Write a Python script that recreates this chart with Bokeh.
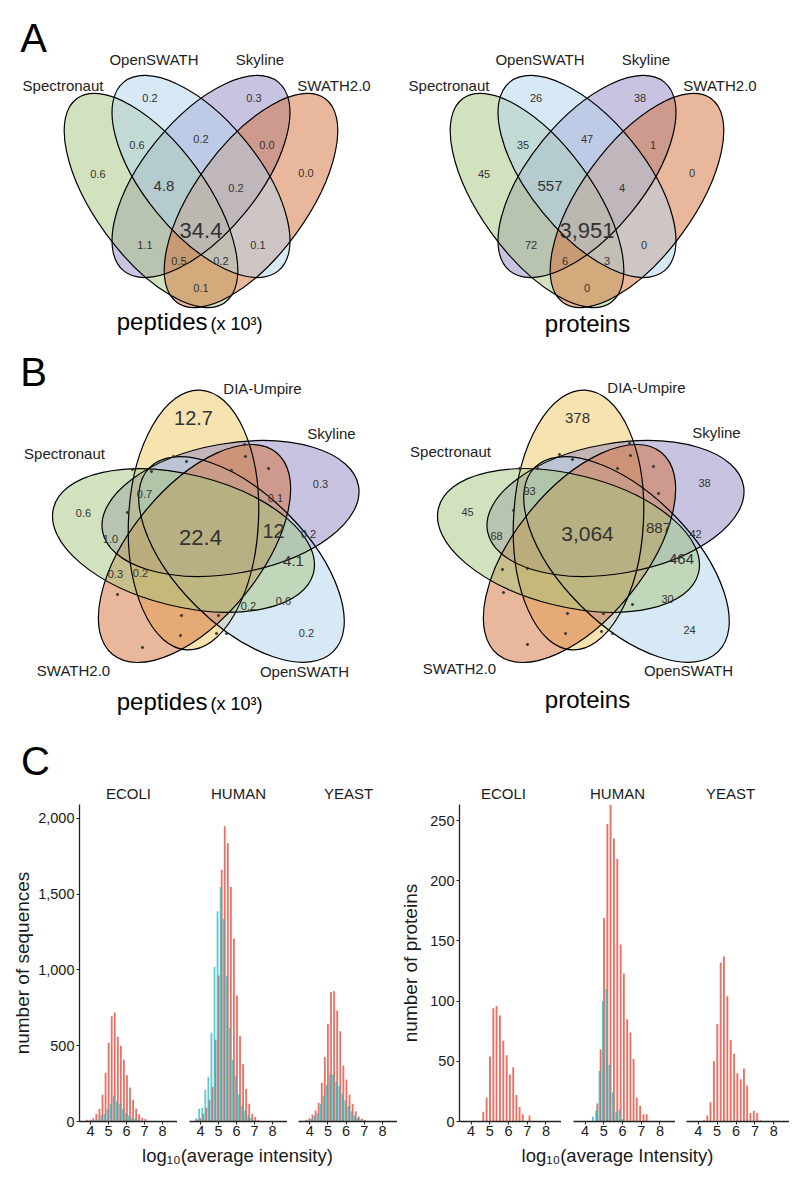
import math
from bokeh.plotting import figure
from bokeh.models import Range1d, FixedTicker, NumeralTickFormatter, ColumnDataSource
from bokeh.transform import dodge
from bokeh.layouts import column, row
from bokeh.embed import file_html
from bokeh.resources import INLINE
from bokeh.core.properties import value

FONT = "Liberation Sans"

# ---------------- data ----------------
QUAD_SETS = ["Spectronaut", "OpenSWATH", "Skyline", "SWATH2.0"]
QUAD_REGIONS = ["A", "B", "C", "D", "AB", "BC", "CD", "ABC", "BCD", "ABCD", "AC", "BD", "ACD", "ABD", "AD"]
QUAD_PEPTIDES = ["0.6", "0.2", "0.3", "0.0", "0.6", "0.2", "0.0", "4.8", "0.2", "34.4", "1.1", "0.1", "0.5", "0.2", "0.1"]
QUAD_PROTEINS = ["45", "26", "38", "0", "35", "47", "1", "557", "4", "3,951", "72", "0", "6", "3", "0"]

PENTA_SETS = ["DIA-Umpire", "Skyline", "OpenSWATH", "SWATH2.0", "Spectronaut"]
PENTA_PEPTIDES = ["12.7", "0.3", "0.6", "0.7", "0.1", "22.4", "12", "1.0", "0.2", "4.1", "0.3", "0.2", "0.2", "0.6", "0.2"]
PENTA_PROTEINS = ["378", "38", "45", "93", "3,064", "887", "68", "42", "464", "30", "24"]

SPECIES = ["ECOLI", "HUMAN", "YEAST"]

PEP_BINS = [3.78, 3.95, 4.12, 4.29, 4.46, 4.63, 4.80, 4.97, 5.14, 5.31, 5.48,
            5.65, 5.82, 5.99, 6.16, 6.33, 6.50, 6.67, 6.84, 7.01, 7.18]
ECOLI_PEP_RED = [12, 11, 22, 50, 84, 176, 321, 520, 695, 720, 560, 500, 407, 305, 225, 143, 84, 48, 24, 16, 5]
ECOLI_PEP_CYAN = [2, 4, 6, 9, 13, 40, 50, 84, 117, 170, 134, 117, 84, 55, 40, 24, 18, 10, 5, 3, 0]
HUMAN_PEP_RED = [13, 22, 50, 90, 143, 227, 539, 964, 1661, 1949, 1837, 1548, 1207, 832, 564, 377, 216, 117, 51, 29, 10]
HUMAN_PEP_CYAN = [20, 84, 90, 209, 293, 585, 1019, 1388, 1547, 1338, 959, 618, 407, 300, 178, 101, 73, 40, 22, 10, 3]
YEAST_PEP_RED = [11, 22, 46, 73, 123, 255, 425, 645, 854, 860, 733, 596, 370, 277, 176, 117, 68, 33, 18, 11, 0]
YEAST_PEP_CYAN = [3, 7, 18, 40, 55, 117, 170, 242, 308, 310, 260, 233, 183, 139, 101, 68, 40, 24, 13, 5, 0]

PROT_BINS = [4.28, 4.45, 4.62, 4.80, 4.98, 5.16, 5.33, 5.51, 5.69, 5.87, 6.04, 6.22, 6.39, 6.56, 6.73, 6.91, 7.09, 7.26]
ECOLI_PROT_RED = [0, 0, 8, 20, 54, 94, 96, 88, 67, 55, 39, 45, 22, 12, 6, 0, 5, 0]
ECOLI_PROT_CYAN = [0, 0, 0, 0, 0, 0, 0, 0, 0, 0, 0, 0, 0, 0, 0, 0, 0, 0]
HUMAN_PROT_RED = [0, 0, 15, 60, 169, 247, 263, 235, 218, 147, 123, 85, 74, 52, 20, 13, 6, 6]
HUMAN_PROT_CYAN = [0, 4, 9, 42, 100, 110, 47, 24, 8, 10, 2, 0, 0, 0, 0, 0, 0, 0]
YEAST_PROT_RED = [1, 5, 16, 50, 81, 132, 137, 104, 68, 56, 40, 35, 44, 30, 7, 9, 7, 1]
YEAST_PROT_CYAN = [0, 0, 0, 0, 0, 0, 0, 0, 0, 0, 0, 0, 0, 0, 0, 0, 0, 0]

PEP_TICKS = [0, 500, 1000, 1500, 2000]
PROT_TICKS = [0, 50, 100, 150, 200, 250]
X_TICKS = [4, 5, 6, 7, 8]
XLABELS = ["log₁₀(average intensity)", "log₁₀(average Intensity)"]
YLABELS = ["number of sequences", "number of proteins"]

# ---------------- styles / layout ----------------
C_GREEN, C_BLUE, C_PURPLE, C_ORANGE, C_YELLOW = "#A7C57D", "#B1D3ED", "#9187C1", "#D37139", "#EFC761"
RED, CYAN = "#EC6F63", "#1BB5BD"
TXT = "#222222"
NUM = "#333333"

QUAD_POS = {"A": (-103, 173), "B": (-51, 97), "C": (53, 97), "D": (105, 172), "AB": (-64, 144),
            "BC": (0, 138), "CD": (66, 144), "ABC": (-37, 185), "BCD": (35, 187), "ABCD": (0, 230),
            "AC": (-56, 244), "BD": (57, 244), "ACD": (-22, 260), "ABD": (20, 260), "AD": (0, 287)}
QUAD_SIZE = {"ABC": 15, "ABCD": 22}
QUAD_NAME_POS = [(-138, 85), (-47, 59), (59, 59), (133, 85)]
QUAD_CENTERS = [200.5, 586.5]
# drawing order purple, green, orange, blue: (dx, y, a, b, angle, colour)
QUAD_ELL = [(0, 176, 122, 57, 50.7, C_PURPLE), (-50, 200, 126, 56, 126, C_GREEN),
            (50, 200, 126, 56, 54, C_ORANGE), (0, 176, 122, 57, 129.3, C_BLUE)]

# 5-set ellipses (x, y, a, b, angle) for DIA-Umpire, Skyline, OpenSWATH, SWATH2.0, Spectronaut (left panel)
PENTA_ELL = [(193, 519.5, 130, 65, 87), (230, 508, 130, 65, 10), (241, 559, 130, 65, -45),
             (194, 553, 130, 65, -129), (183, 540, 134, 66, 166)]
PENTA_SHIFT = [0, 385]
PENTA_COLS = [C_YELLOW, C_PURPLE, C_BLUE, C_ORANGE, C_GREEN]

PENTA_PEP_POS = [(193, 417), (320, 483), (83, 512), (144, 493), (275, 497), (200, 537), (273, 530),
                 (110, 538), (308, 533), (293, 560), (115, 573), (140, 572), (248, 605), (283, 600), (306, 632)]
PENTA_PEP_SIZE = [20, 11, 11, 11, 11, 22, 20, 11, 11, 15, 11, 11, 11, 11, 11]
PENTA_PROT_POS = [(577, 417), (704, 482), (467, 511), (529, 490), (587, 533), (658, 527),
                  (496, 535), (695, 533), (681, 558), (667, 598), (689, 629)]
PENTA_PROT_SIZE = [15, 11, 11, 11, 21, 15, 11, 11, 15, 11, 11]
PENTA_NAME_POS_L = [(262, 388), (331, 433), (304, 671), (73, 670), (64, 453)]
PENTA_NAME_POS_R = [(646, 387), (716, 432), (688, 670), (459, 668), (450, 451)]
PENTA_DOTS_L = [(244, 444), (173, 456), (245, 456), (186, 461), (132, 469), (151, 471), (231, 470), (268, 468),
                (127, 512), (117, 594), (181, 615), (218, 615), (180, 635), (142, 647), (216, 633), (226, 633)]
PENTA_DOTS_R = [(629, 443), (559, 454), (630, 455), (572, 459), (519, 468), (537, 468), (617, 468), (653, 466),
                (658, 493), (513, 510), (502, 569), (527, 568), (503, 592), (567, 613), (603, 613), (632, 604),
                (565, 633), (527, 644), (601, 631), (612, 633)]


def canvas(h, y0):
    p = figure(width=800, height=h, x_range=Range1d(0, 800), y_range=Range1d(-(y0 + h), -y0),
               output_backend="svg", toolbar_location=None, min_border=0,
               x_axis_location=None, y_axis_location=None)
    p.grid.visible = False
    p.outline_line_color = None
    return p


venn = canvas(804, 0)


def add_text(p, xs, ys, texts, sizes, align="center", color=TXT):
    src = ColumnDataSource(dict(x=xs, y=[-y for y in ys], t=texts, fs=["%.1fpx" % s for s in sizes]))
    p.text(x="x", y="y", text="t", source=src, text_font=value(FONT), text_font_size="fs",
           text_align=align, text_baseline="middle", text_color=color)


# quad Venn
for cx in QUAD_CENTERS:
    for (dx, ey, a, b, ang, col) in QUAD_ELL:
        venn.ellipse(x=[cx + dx], y=[-ey], width=[2 * a], height=[2 * b], angle=[math.radians(ang)],
                     fill_color=col, fill_alpha=0.5, line_color=None)
    for (dx, ey, a, b, ang, col) in QUAD_ELL:
        venn.ellipse(x=[cx + dx], y=[-ey], width=[2 * a], height=[2 * b], angle=[math.radians(ang)],
                     fill_color=None, line_color="black", line_width=1.2)

for cx, vals in zip(QUAD_CENTERS, [QUAD_PEPTIDES, QUAD_PROTEINS]):
    add_text(venn, [cx + QUAD_POS[r][0] for r in QUAD_REGIONS], [QUAD_POS[r][1] for r in QUAD_REGIONS], vals,
             [QUAD_SIZE.get(r, 11) for r in QUAD_REGIONS], color=NUM)
    add_text(venn, [cx + p[0] for p in QUAD_NAME_POS], [p[1] for p in QUAD_NAME_POS], QUAD_SETS, [15] * 4)

# 5-set Venn
for sh in PENTA_SHIFT:
    for (ex, ey, a, b, ang), col in zip(PENTA_ELL, PENTA_COLS):
        venn.ellipse(x=[ex + sh], y=[-ey], width=[2 * a], height=[2 * b], angle=[math.radians(ang)],
                     fill_color=col, fill_alpha=0.5, line_color=None)
    for (ex, ey, a, b, ang) in PENTA_ELL:
        venn.ellipse(x=[ex + sh], y=[-ey], width=[2 * a], height=[2 * b], angle=[math.radians(ang)],
                     fill_color=None, line_color="black", line_width=1.2)

add_text(venn, [p[0] for p in PENTA_PEP_POS], [p[1] for p in PENTA_PEP_POS], PENTA_PEPTIDES, PENTA_PEP_SIZE, color=NUM)
add_text(venn, [p[0] for p in PENTA_PROT_POS], [p[1] for p in PENTA_PROT_POS], PENTA_PROTEINS, PENTA_PROT_SIZE, color=NUM)
add_text(venn, [p[0] for p in PENTA_NAME_POS_L], [p[1] for p in PENTA_NAME_POS_L], PENTA_SETS, [15] * 5)
add_text(venn, [p[0] for p in PENTA_NAME_POS_R], [p[1] for p in PENTA_NAME_POS_R], PENTA_SETS, [15] * 5)
for dots in (PENTA_DOTS_L, PENTA_DOTS_R):
    venn.scatter(x=[d[0] for d in dots], y=[-d[1] for d in dots], size=2.2, color=NUM)

add_text(venn, [33, 33, 35], [37, 371, 760], ["A", "B", "C"], [40, 40, 40], color="black")

for (x, y) in [(207, 321), (207, 701)]:
    venn.text(x=[x], y=[-y], text=["peptides"], text_font=value(FONT), text_font_size=value("24px"),
              text_align="right", text_baseline="middle", text_color="black")
    venn.text(x=[x + 3], y=[-(y + 2)], text=["(x 10³)"], text_font=value(FONT), text_font_size=value("18px"),
              text_align="left", text_baseline="middle", text_color="black")
for (x, y) in [(587, 323), (587, 699)]:
    venn.text(x=[x], y=[-y], text=["proteins"], text_font=value(FONT), text_font_size=value("24px"),
              text_align="center", text_baseline="middle", text_color="black")

# facet strip titles
add_text(venn, [128, 238, 348, 503, 617, 730], [793] * 6, SPECIES * 2, [15] * 6, color="#1a1a1a")


# ---------------- histograms ----------------
def hist_fig(bins, red, cyan, ymax, yticks, frame_w, border_left, ylabel=None, lab_standoff=6):
    kw = dict(frame_width=frame_w, frame_height=317, x_range=Range1d(3.38, 8.83),
              y_range=Range1d(0, ymax), output_backend="svg", toolbar_location=None,
              min_border=0, min_border_left=border_left, min_border_bottom=22)
    if ylabel is None:
        kw["y_axis_location"] = None
    p = figure(**kw)
    p.grid.visible = False
    p.outline_line_color = None
    src = ColumnDataSource(dict(b=bins, red=red, cyan=cyan))
    p.vbar(x=dodge("b", 0.03, range=p.x_range), top="red", width=0.1, source=src,
           fill_color=RED, line_color=None)
    p.vbar(x=dodge("b", -0.03, range=p.x_range), top="cyan", width=0.1, source=src,
           fill_color=CYAN, fill_alpha=0.7, line_color=None)
    axes = list(p.xaxis) + (list(p.yaxis) if ylabel is not None else [])
    for ax in axes:
        ax.axis_line_width = 1.3
        ax.axis_line_color = "#222222"
        ax.major_tick_line_color = "#222222"
        ax.major_tick_out = 3
        ax.major_tick_in = 0
        ax.minor_tick_out = 0
        ax.minor_tick_in = 0
        ax.major_label_text_font = FONT
        ax.major_label_text_font_size = "14.5px"
        ax.major_label_text_color = "#1a1a1a"
        ax.major_label_standoff = 2
        ax.axis_label_text_font = FONT
        ax.axis_label_text_font_size = "19px"
        ax.axis_label_text_font_style = "normal"
        ax.axis_label_text_color = "#1a1a1a"
        ax.axis_label_standoff = lab_standoff
    p.xaxis.ticker = FixedTicker(ticks=X_TICKS)
    p.xaxis.major_label_standoff = 1
    if ylabel is not None:
        p.yaxis.ticker = FixedTicker(ticks=yticks)
        p.yaxis.formatter = NumeralTickFormatter(format="0,0")
        p.yaxis.axis_label = ylabel
    return p


h1 = hist_fig(PEP_BINS, ECOLI_PEP_RED, ECOLI_PEP_CYAN, 2092, PEP_TICKS, 98, 79, ylabel=YLABELS[0], lab_standoff=2)
h2 = hist_fig(PEP_BINS, HUMAN_PEP_RED, HUMAN_PEP_CYAN, 2092, PEP_TICKS, 98, 12)
h3 = hist_fig(PEP_BINS, YEAST_PEP_RED, YEAST_PEP_CYAN, 2092, PEP_TICKS, 99, 11)
h4 = hist_fig(PROT_BINS, ECOLI_PROT_RED, ECOLI_PROT_CYAN, 263.3, PROT_TICKS, 102, 55, ylabel=YLABELS[1], lab_standoff=6)
h5 = hist_fig(PROT_BINS, HUMAN_PROT_RED, HUMAN_PROT_CYAN, 263.3, PROT_TICKS, 102, 12)
h6 = hist_fig(PROT_BINS, YEAST_PROT_RED, YEAST_PROT_CYAN, 263.3, PROT_TICKS, 103, 11)

# shared x-axis titles
xlab = canvas(33, 1143)
add_text(xlab, [237, 617], [1155, 1155], XLABELS, [18.5, 18.5], color="#1a1a1a")

layout = column(venn, row(h1, h2, h3, h4, h5, h6, spacing=0), xlab, spacing=0)

with open("out.html", "w") as f:
    f.write(file_html(layout, INLINE))
